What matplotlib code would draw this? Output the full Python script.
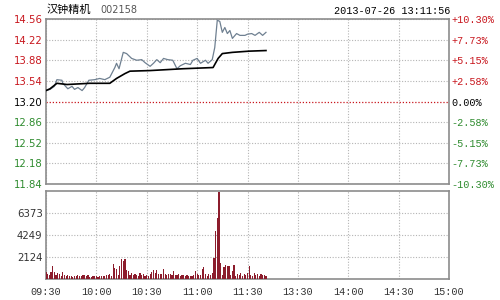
import matplotlib

matplotlib.use("Agg")

import matplotlib.pyplot as plt

# intraday quote of 002158, minutes counted from 09:30 (afternoon continues at 120)
stock_name = "汉钟精机"
stock_code = "002158"
stamp = "2013-07-26 13:11:56"
prev_close = 13.20

price_ticks = [11.84, 12.18, 12.52, 12.86, 13.20, 13.54, 13.88, 14.22, 14.56]
pct_labels = ["-10.30%", "-7.73%", "-5.15%", "-2.58%", "0.00%",
              "+2.58%", "+5.15%", "+7.73%", "+10.30%"]
vol_ticks = [2124, 4249, 6373]
vol_top = 8498
time_ticks = [0, 30, 60, 90, 120, 150, 180, 210, 240]
time_labels = ["09:30", "10:00", "10:30", "11:00", "11:30",
               "13:30", "14:00", "14:30", "15:00"]

price_min = [0, 2.4, 5, 6.5, 9.5, 10, 13, 15.5, 17, 19, 21.5, 23, 25.5, 29, 32,
             35, 38, 41, 42, 43.5, 46, 48, 51, 54, 57, 59, 62, 64, 66, 68, 70,
             72.5, 75.5, 78, 80, 83, 86, 87.5, 90, 92, 95, 96.5, 99, 100.5, 102,
             103.5, 105, 106.5, 108, 109.5, 111, 113.5, 115.5, 118.5, 120,
             122.5, 124.5, 127, 129, 131]
price_val = [13.38, 13.40, 13.45, 13.56, 13.55, 13.50, 13.41, 13.45, 13.40,
             13.43, 13.38, 13.43, 13.55, 13.56, 13.58, 13.56, 13.60, 13.76,
             13.83, 13.74, 14.01, 13.99, 13.91, 13.88, 13.89, 13.84, 13.78,
             13.83, 13.89, 13.84, 13.91, 13.89, 13.88, 13.74, 13.79, 13.83,
             13.81, 13.88, 13.91, 13.83, 13.88, 13.83, 13.89, 14.09, 14.54,
             14.52, 14.34, 14.42, 14.32, 14.37, 14.24, 14.32, 14.29, 14.29,
             14.31, 14.32, 14.29, 14.34, 14.29, 14.34]

avg_min = [0, 2.4, 6.5, 12.5, 26, 38, 42, 47, 50, 62, 81.5, 99.5, 102.5, 105,
           111, 121, 131]
avg_val = [13.38, 13.41, 13.50, 13.48, 13.50, 13.50, 13.58, 13.66, 13.70,
           13.71, 13.74, 13.76, 13.91, 13.99, 14.01, 14.03, 14.04]

volume = [650, 520, 430, 720, 1300, 650, 430, 590, 520, 330,
          650, 420, 300, 380, 250, 320, 220, 300, 250, 380,
          280, 300, 420, 350, 300, 400, 220, 180, 260, 300,
          250, 220, 330, 260, 280, 300, 420, 350, 480, 300,
          1470, 1050, 960, 380, 1220, 1920, 1700, 1920, 900, 740,
          420, 580, 350, 500, 420, 300, 580, 380, 450, 300,
          350, 250, 480, 700, 870, 620, 870, 520, 450, 500,
          930, 480, 420, 500, 450, 380, 770, 420, 350, 480,
          300, 420, 350, 300, 390, 250, 330, 280, 380, 800,
          500, 420, 350, 930, 1130, 450, 320, 510, 420, 600,
          2060, 4670, 5920, 8430, 1580, 420, 1130, 1350, 1250, 1250,
          420, 800, 1350, 320, 500, 420, 550, 300, 450, 350,
          600, 1250, 420, 300, 550, 380, 450, 300, 500, 350,
          400, 300]

RED = "#c8161d"
GREEN = "#2e8b2e"
GRID = "#b4b4b4"
SPINE = "#8c8c8c"
MONO = "Liberation Mono"
SANS = "DejaVu Sans"

fig = plt.figure(figsize=(5, 3), dpi=100)
ax = fig.add_axes([46 / 500, 1 - 184 / 300, 403 / 500, 165 / 300])
axv = fig.add_axes([46 / 500, 1 - 279 / 300, 403 / 500, 88 / 300])

for a in (ax, axv):
    a.set_xlim(0, 240)
    a.set_xticks(time_ticks)
    for s in a.spines.values():
        s.set_color(SPINE)
        s.set_linewidth(1.2)
    a.tick_params(length=0)
    a.grid(True, color=GRID, linestyle=(0, (1, 1.5)), linewidth=0.8)
    a.set_axisbelow(True)

# price panel
ax.set_ylim(price_ticks[0], price_ticks[-1])
ax.set_yticks(price_ticks)
ax.set_yticklabels([f"{p:.2f}" for p in price_ticks], family=SANS, fontsize=7.3)
ax.tick_params(axis="y", pad=2.5)
ax.set_xticklabels([])
for lbl, p in zip(ax.get_yticklabels(), price_ticks):
    lbl.set_color(RED if p > prev_close else GREEN if p < prev_close else "black")
ax.get_ygridlines()[4].set_visible(False)
ax.axhline(prev_close, color=RED, linestyle=(0, (1, 1.5)), linewidth=0.9, zorder=1)

ax.plot(price_min, price_val, color="#6f8091", linewidth=0.9, zorder=3)
ax.plot(avg_min, avg_val, color="black", linewidth=1.2, zorder=4)

axr = ax.twinx()
axr.set_ylim(ax.get_ylim())
axr.set_yticks(price_ticks)
axr.set_yticklabels(pct_labels, family=MONO, fontsize=7.3)
axr.tick_params(length=0, pad=1.5)
for s in axr.spines.values():
    s.set_visible(False)
for lbl, p in zip(axr.get_yticklabels(), price_ticks):
    lbl.set_color(RED if p > prev_close else GREEN if p < prev_close else "black")

# volume panel
axv.bar(range(len(volume)), volume, width=0.7, color="#8c1c2c", zorder=3)
axv.set_ylim(0, vol_top)
axv.set_yticks(vol_ticks)
axv.set_yticklabels([str(v) for v in vol_ticks], family=SANS, fontsize=7.3,
                    color="#333333")
axv.tick_params(axis="y", pad=2.5)
axv.set_xticklabels(time_labels, family=MONO, fontsize=7.3, color="#333333")
axv.tick_params(axis="x", pad=5.5)

fig.text(47 / 500, 1 - 10 / 300, stock_name, family=["Noto Sans CJK SC", "DejaVu Sans"],
         fontsize=8, va="center", ha="left", color="black")
fig.text(100 / 500, 1 - 10 / 300, stock_code, family=SANS, fontsize=7,
         va="center", ha="left", color="#555555")
fig.text(450 / 500, 1 - 11 / 300, stamp, family=MONO, fontsize=7.3,
         va="center", ha="right", color="black")

fig.savefig("out.png", dpi=100)
